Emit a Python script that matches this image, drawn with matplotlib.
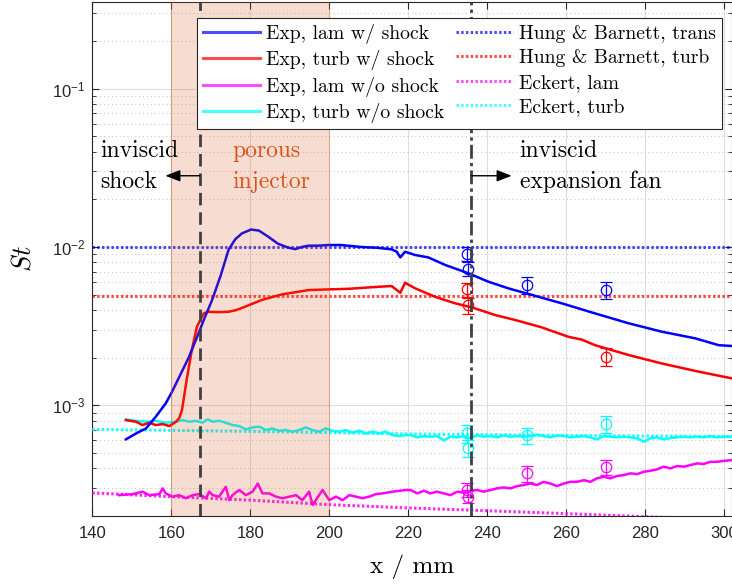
#!/usr/bin/env python3
"""Stanton number along the plate: experiments vs. correlations (log scale)."""

import numpy as np
import matplotlib
matplotlib.use('Agg')
import matplotlib.pyplot as plt
from matplotlib.lines import Line2D
from matplotlib.ticker import FuncFormatter, LogLocator, NullFormatter, MultipleLocator

# ---- data (x in mm, St dimensionless) ----
x_lam_shock = [148.5, 151.1, 153.6, 156.1, 158.6, 160.2, 162.5, 164.4, 166.9, 168.5,
               170.3, 172.5, 174.5, 176.2, 177.9, 180.2, 182.2, 184.6, 187.0, 189.7,
               191.4, 193.0, 194.8, 197.0, 199.8, 203.0, 208.3, 212.0, 215.8, 217.1,
               218.0, 219.2, 221.8, 225.1, 229.4, 235.3, 240.3, 245.4, 250.5, 258.9,
               267.3, 275.8, 284.2, 292.7, 298.6, 302.0]
st_lam_shock = [6.1e-4, 6.65e-4, 7.15e-4, 8.5e-4, 1.03e-3, 1.22e-3, 1.6e-3, 2.0e-3, 2.85e-3, 3.6e-3,
                4.6e-3, 6.6e-3, 9.6e-3, 1.12e-2, 1.22e-2, 1.29e-2, 1.27e-2, 1.16e-2, 1.05e-2, 9.9e-3,
                9.7e-3, 1.0e-2, 1.02e-2, 1.02e-2, 1.03e-2, 1.03e-2, 1.0e-2, 9.9e-3, 9.67e-3, 9.34e-3,
                8.6e-3, 9.34e-3, 8.9e-3, 8.6e-3, 7.7e-3, 6.82e-3, 6.04e-3, 5.48e-3, 5.05e-3, 4.41e-3,
                3.81e-3, 3.30e-3, 2.92e-3, 2.65e-3, 2.40e-3, 2.37e-3]

x_turb_shock = [148.5, 151.1, 152.7, 154.4, 156.1, 157.8, 159.5, 161.2, 162.0, 162.7,
                163.9, 165.2, 166.5, 168.2, 169.4, 172.0, 174.5, 176.5, 178.7, 182.9,
                188.0, 194.8, 199.8, 205.0, 212.5, 215.8, 218.0, 219.2, 221.8, 226.8,
                231.9, 236.1, 242.0, 247.1, 253.8, 260.6, 264.0, 267.3, 275.8, 284.2,
                292.7, 302.0]
st_turb_shock = [8.07e-4, 7.88e-4, 7.51e-4, 7.77e-4, 7.51e-4, 7.62e-4, 7.40e-4, 7.88e-4, 8.3e-4, 9.3e-4,
                 1.45e-3, 2.24e-3, 3.14e-3, 3.81e-3, 3.9e-3, 3.88e-3, 3.9e-3, 4.0e-3, 4.2e-3, 4.63e-3,
                 5.02e-3, 5.35e-3, 5.40e-3, 5.45e-3, 5.61e-3, 5.67e-3, 5.14e-3, 5.95e-3, 5.48e-3, 4.85e-3,
                 4.41e-3, 4.16e-3, 3.72e-3, 3.46e-3, 3.11e-3, 2.71e-3, 2.60e-3, 2.40e-3, 2.08e-3, 1.84e-3,
                 1.65e-3, 1.48e-3]

x_lam_noshock = [146.8, 150.2, 152.7, 154.4, 157.0, 157.8, 158.6, 160.3, 162.0, 163.7,
                 165.4, 167.1, 168.8, 169.6, 170.5, 172.1, 173.8, 174.7, 175.5, 177.2,
                 178.9, 180.6, 181.9, 183.1, 184.8, 186.5, 188.2, 189.9, 191.6, 193.2,
                 194.9, 195.8, 196.6, 198.3, 200.0, 201.7, 203.4, 205.1, 206.8, 208.4,
                 210.1, 211.8, 213.5, 216.0, 219.4, 220.6, 222.3, 224.0, 225.6, 227.3,
                 229.0, 230.7, 232.4, 234.1, 235.8, 237.5, 239.1, 240.8, 242.5, 244.2,
                 245.9, 247.6, 249.3, 251.0, 252.6, 254.3, 256.0, 257.7, 259.4, 261.1,
                 262.8, 264.5, 266.1, 267.8, 269.5, 271.2, 272.9, 274.6, 276.3, 278.0,
                 279.7, 281.3, 283.0, 284.7, 286.4, 288.1, 289.8, 291.5, 293.2, 294.8,
                 296.5, 298.2, 299.9, 302.0]
st_lam_noshock = [2.71e-4, 2.75e-4, 2.85e-4, 2.71e-4, 2.75e-4, 2.99e-4, 2.78e-4, 2.65e-4, 2.71e-4, 2.59e-4,
                  2.71e-4, 2.75e-4, 2.59e-4, 2.85e-4, 2.71e-4, 2.65e-4, 3.06e-4, 2.52e-4, 2.71e-4, 2.92e-4,
                  2.71e-4, 2.85e-4, 3.21e-4, 2.78e-4, 2.78e-4, 2.65e-4, 2.59e-4, 2.65e-4, 2.71e-4, 2.52e-4,
                  2.85e-4, 2.35e-4, 2.52e-4, 2.92e-4, 2.52e-4, 2.65e-4, 2.52e-4, 2.71e-4, 2.65e-4, 2.59e-4,
                  2.65e-4, 2.75e-4, 2.78e-4, 2.85e-4, 2.92e-4, 2.92e-4, 2.78e-4, 2.89e-4, 2.78e-4, 2.85e-4,
                  2.78e-4, 2.71e-4, 2.85e-4, 2.81e-4, 2.89e-4, 2.92e-4, 2.85e-4, 2.92e-4, 2.99e-4, 3.03e-4,
                  2.99e-4, 3.09e-4, 3.14e-4, 3.21e-4, 3.14e-4, 3.29e-4, 3.21e-4, 3.09e-4, 3.21e-4, 3.29e-4,
                  3.29e-4, 3.37e-4, 3.29e-4, 3.46e-4, 3.54e-4, 3.46e-4, 3.58e-4, 3.63e-4, 3.72e-4, 3.68e-4,
                  3.81e-4, 3.86e-4, 3.94e-4, 4.10e-4, 4.00e-4, 4.14e-4, 4.10e-4, 4.20e-4, 4.30e-4, 4.26e-4,
                  4.40e-4, 4.40e-4, 4.46e-4, 4.51e-4]

x_turb_noshock = [148.5, 151.1, 153.6, 156.1, 158.6, 161.2, 162.9, 164.6, 166.2, 167.9,
                  169.2, 170.5, 172.1, 173.8, 175.5, 177.2, 178.9, 180.6, 182.3, 184.0,
                  185.6, 187.3, 189.0, 190.7, 192.4, 194.1, 195.8, 197.5, 199.1, 200.8,
                  202.5, 204.2, 205.9, 207.6, 209.3, 211.0, 212.7, 214.3, 216.0, 217.7,
                  219.4, 220.6, 222.3, 224.0, 225.6, 227.3, 229.0, 230.7, 232.4, 234.1,
                  235.8, 237.5, 239.1, 240.8, 242.5, 244.2, 245.9, 247.6, 249.3, 251.0,
                  252.6, 254.3, 256.0, 257.7, 259.4, 261.1, 262.8, 264.5, 266.1, 267.8,
                  269.5, 271.2, 272.9, 274.6, 276.3, 278.0, 279.7, 281.3, 283.0, 284.7,
                  286.4, 288.1, 289.8, 291.5, 293.2, 294.8, 296.5, 298.2, 299.9, 302.0]
st_turb_noshock = [8.16e-4, 7.99e-4, 7.88e-4, 7.99e-4, 7.77e-4, 7.88e-4, 8.07e-4, 7.88e-4, 7.99e-4, 7.77e-4,
                   8.16e-4, 7.88e-4, 7.99e-4, 7.77e-4, 7.51e-4, 7.40e-4, 7.05e-4, 7.26e-4, 7.33e-4, 6.98e-4,
                   7.15e-4, 6.91e-4, 6.98e-4, 6.82e-4, 6.98e-4, 7.26e-4, 6.98e-4, 6.82e-4, 7.15e-4, 6.91e-4,
                   6.82e-4, 6.98e-4, 6.72e-4, 6.91e-4, 6.65e-4, 6.82e-4, 6.65e-4, 6.82e-4, 6.49e-4, 6.40e-4,
                   6.49e-4, 6.49e-4, 6.28e-4, 6.40e-4, 6.34e-4, 6.40e-4, 6.00e-4, 6.34e-4, 6.28e-4, 6.40e-4,
                   6.19e-4, 6.49e-4, 6.34e-4, 6.40e-4, 6.28e-4, 6.46e-4, 6.34e-4, 6.40e-4, 6.34e-4, 6.40e-4,
                   6.52e-4, 6.40e-4, 6.28e-4, 6.46e-4, 6.40e-4, 6.28e-4, 6.34e-4, 6.40e-4, 6.28e-4, 6.10e-4,
                   6.40e-4, 6.34e-4, 6.28e-4, 6.34e-4, 6.28e-4, 6.19e-4, 5.89e-4, 6.19e-4, 6.28e-4, 6.10e-4,
                   6.22e-4, 6.28e-4, 6.34e-4, 6.28e-4, 6.34e-4, 6.28e-4, 6.40e-4, 6.28e-4, 6.34e-4, 6.34e-4]

# correlations
hb_trans = 1.0e-2
hb_turb = 4.9e-3
x_eckert_turb = [140, 180, 220, 260, 302]
st_eckert_turb = [7.05e-4, 6.85e-4, 6.6e-4, 6.45e-4, 6.35e-4]
x_eckert_lam = [140, 160, 180, 200, 220, 240, 260, 280, 302]
st_eckert_lam = [2.8e-4, 2.65e-4, 2.52e-4, 2.36e-4, 2.25e-4, 2.16e-4, 2.07e-4, 1.98e-4, 1.9e-4]

# discrete measurements with error bars
x_pts_lam_shock = [234.9, 235.2, 250.0, 270.0]
st_pts_lam_shock = [9.1e-3, 7.3e-3, 5.75e-3, 5.35e-3]
err_lam_shock = [0.95e-3, 0.75e-3, 0.68e-3, 0.68e-3]
x_pts_turb_shock = [234.9, 235.2, 270.0]
st_pts_turb_shock = [5.4e-3, 4.3e-3, 2.03e-3]
err_turb_shock = [0.55e-3, 0.5e-3, 0.27e-3]
x_pts_lam_noshock = [234.9, 235.2, 250.0, 270.0]
st_pts_lam_noshock = [2.92e-4, 2.65e-4, 3.72e-4, 4.06e-4]
err_lam_noshock = [0.3e-4, 0.25e-4, 0.42e-4, 0.45e-4]
x_pts_turb_noshock = [234.9, 235.2, 250.0, 270.0]
st_pts_turb_noshock = [6.65e-4, 5.35e-4, 6.49e-4, 7.62e-4]
err_turb_noshock = [0.85e-4, 0.65e-4, 0.75e-4, 0.9e-4]

x_shock = 167.2
x_fan = 236.0
injector = (160.0, 200.0)

labels = ['Exp, lam w/ shock', 'Exp, turb w/ shock', 'Exp, lam w/o shock', 'Exp, turb w/o shock',
          'Hung & Barnett, trans', 'Hung & Barnett, turb', 'Eckert, lam', 'Eckert, turb']

BLUE = '#0000ff'
RED = '#ff0000'
MAG = '#ff00ff'
CYAN = '#00ffff'
ORANGE = '#D95319'
DOT = (0, (0.8, 0.75))

plt.rcParams['font.family'] = 'Liberation Sans'
plt.rcParams['mathtext.fontset'] = 'cm'

fig = plt.figure(figsize=(7.32, 5.85), dpi=100)
ax = fig.add_axes([0.1261, 0.1179, 0.8739, 0.8787])
ax.set_yscale('log')

# correlation lines (dotted)
ax.axhline(hb_trans, color=BLUE, ls=DOT, lw=2.2, alpha=0.7, zorder=3)
ax.axhline(hb_turb, color=RED, ls=DOT, lw=2.2, alpha=0.7, zorder=3)
ax.plot(x_eckert_lam, st_eckert_lam, color=MAG, ls=DOT, lw=2.2, alpha=0.85, zorder=3)
ax.plot(x_eckert_turb, st_eckert_turb, color=CYAN, ls=DOT, lw=2.2, alpha=0.9, zorder=3)

# experimental curves
ax.plot(x_lam_noshock, st_lam_noshock, color=MAG, lw=1.8, zorder=4)
ax.plot(x_turb_noshock, st_turb_noshock, color=CYAN, lw=1.8, zorder=4)
ax.plot(x_turb_shock, st_turb_shock, color=RED, lw=1.8, zorder=4)
ax.plot(x_lam_shock, st_lam_shock, color=BLUE, lw=1.8, zorder=4)

# discrete points
for xs, ys, es, c in [(x_pts_lam_shock, st_pts_lam_shock, err_lam_shock, BLUE),
                      (x_pts_turb_shock, st_pts_turb_shock, err_turb_shock, RED),
                      (x_pts_lam_noshock, st_pts_lam_noshock, err_lam_noshock, MAG),
                      (x_pts_turb_noshock, st_pts_turb_noshock, err_turb_noshock, CYAN)]:
    ax.errorbar(xs, ys, yerr=es, fmt='o', mfc='none', mec=c, ecolor=c, ms=7.5,
                mew=0.9, elinewidth=0.9, capsize=4, capthick=0.9, zorder=5)

# porous injector patch, drawn on top of the curves
ax.axvspan(injector[0], injector[1], facecolor=ORANGE, alpha=0.2, edgecolor='none', zorder=6)
for xe in injector:
    ax.axvline(xe, color=ORANGE, lw=0.8, alpha=0.4, zorder=6)

ax.axvline(x_shock, color='#404040', lw=2.0, ls=(0, (4.5, 2.5)), zorder=7)
ax.axvline(x_fan, color='#404040', lw=2.0, ls=(0, (5, 1.5, 1.2, 1.5)), zorder=7)

# annotations
arrow_y = 0.0282
ax.annotate('', xy=(158.5, arrow_y), xytext=(x_shock, arrow_y),
            arrowprops=dict(arrowstyle='-|>,head_length=0.9,head_width=0.35',
                            color='k', lw=1.0, shrinkA=0, shrinkB=0), zorder=8)
ax.annotate('', xy=(246.2, arrow_y), xytext=(x_fan, arrow_y),
            arrowprops=dict(arrowstyle='-|>,head_length=0.9,head_width=0.35',
                            color='k', lw=1.0, shrinkA=0, shrinkB=0), zorder=8)
tkw = dict(family='cmr10', fontsize=17, va='baseline', zorder=8)
ax.text(141.9, 0.0369, 'inviscid', **tkw)
ax.text(141.9, 0.0235, 'shock', **tkw)
ax.text(175.4, 0.0369, 'porous', color=ORANGE, **tkw)
ax.text(175.4, 0.0235, 'injector', color=ORANGE, **tkw)
ax.text(248.2, 0.0369, 'inviscid', **tkw)
ax.text(248.2, 0.0235, 'expansion fan', **tkw)

# axes
ax.set_xlim(140, 302)
ax.set_ylim(2e-4, 0.353)
ax.xaxis.set_major_locator(MultipleLocator(20))
ax.yaxis.set_major_locator(LogLocator(base=10))
ax.yaxis.set_minor_locator(LogLocator(base=10, subs=np.arange(2, 10)))
ax.yaxis.set_minor_formatter(NullFormatter())
ax.yaxis.set_major_formatter(FuncFormatter(
    lambda v, pos: r'$\mathregular{10^{%d}}$' % int(round(np.log10(v)))))

ax.grid(True, which='major', color='#dedede', lw=0.8, zorder=0)
ax.grid(True, which='minor', axis='y', color='#c4c4c4', ls=(0, (1, 3)), lw=0.7, zorder=0)
ax.set_axisbelow(True)

ax.tick_params(which='both', direction='in', top=True, right=True, colors='#262626',
               labelcolor='#262626', labelsize=12)
ax.tick_params(which='major', length=5, width=0.8)
ax.tick_params(which='minor', length=3, width=0.6)
ax.tick_params(axis='x', pad=7)
ax.tick_params(axis='y', pad=5)
for sp in ax.spines.values():
    sp.set_color('#262626')
    sp.set_linewidth(0.8)

ax.set_xlabel('x / mm', family='cmr10', fontsize=18, labelpad=10)
ax.set_ylabel(r'$St$', fontsize=19, labelpad=12)

# legend
colors = [BLUE, RED, MAG, CYAN, BLUE, RED, MAG, CYAN]
handles = [Line2D([], [], color=c, lw=2.2, alpha=0.7, ls='-' if i < 4 else DOT)
           for i, c in enumerate(colors)]
leg = ax.legend(handles, labels, ncol=2, loc='upper right', bbox_to_anchor=(0.984, 0.969),
                prop={'family': 'cmr10', 'size': 14.2}, frameon=True, fancybox=False,
                edgecolor='#262626', framealpha=1, handlelength=2.9, handletextpad=0.3,
                columnspacing=0.6, labelspacing=0.33, borderpad=0.3, borderaxespad=0)
leg.get_frame().set_linewidth(0.8)
leg.set_zorder(10)

fig.savefig('out.png', dpi=100)
